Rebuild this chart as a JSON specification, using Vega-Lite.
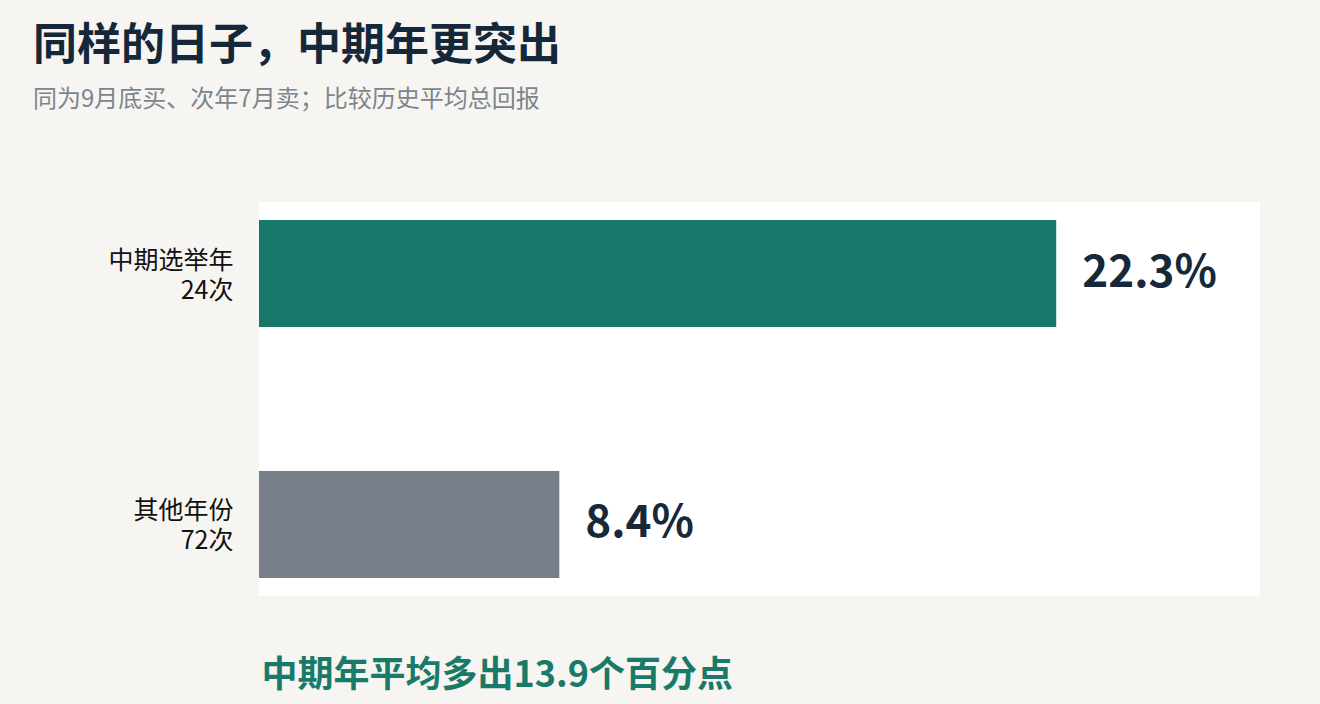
{
  "$schema": "https://vega.github.io/schema/vega-lite/v6.json",
  "width": 1001,
  "height": 394,
  "autosize": "none",
  "padding": {"left": 259, "top": 202, "right": 60, "bottom": 108},
  "background": "#f6f5f1",
  "view": {"fill": "#ffffff", "stroke": null},
  "title": {
    "text": "同样的日子，中期年更突出",
    "subtitle": "同为9月底买、次年7月卖；比较历史平均总回报",
    "anchor": "start",
    "frame": "group",
    "dx": -226,
    "offset": 90,
    "font": "Noto Sans CJK SC",
    "fontSize": 44,
    "fontWeight": "bold",
    "color": "#15283a",
    "subtitleFont": "Noto Sans CJK SC",
    "subtitleFontSize": 24,
    "subtitleColor": "#7d858c",
    "subtitlePadding": 19
  },
  "data": {
    "values": [
      {"group": "中期选举年|24次", "value": 22.3, "label": "22.3%", "kind": "mid"},
      {"group": "其他年份|72次", "value": 8.4, "label": "8.4%", "kind": "other"}
    ]
  },
  "encoding": {
    "y": {
      "field": "group",
      "type": "nominal",
      "sort": null,
      "scale": {"paddingInner": 0.574, "paddingOuter": 0.072},
      "axis": {
        "title": null,
        "domain": false,
        "ticks": false,
        "labelExpr": "split(datum.value, '|')",
        "labelFont": "Noto Sans CJK SC",
        "labelFontSize": 25,
        "labelColor": "#111111",
        "labelLineHeight": 30,
        "labelPadding": 26,
        "labelOffset": -13,
        "labelAlign": "right",
        "labelBaseline": "middle"
      }
    },
    "x": {
      "field": "value",
      "type": "quantitative",
      "scale": {"domain": [0, 28], "nice": false},
      "axis": {
        "title": "中期年平均多出13.9个百分点",
        "labels": false,
        "ticks": false,
        "domain": false,
        "grid": false,
        "titleFont": "Noto Sans CJK SC",
        "titleFontSize": 36,
        "titleFontWeight": "bold",
        "titleColor": "#1a7a6a",
        "titleAnchor": "start",
        "titleAlign": "left",
        "titleX": 2,
        "titleY": 90,
        "titleBaseline": "alphabetic"
      }
    }
  },
  "layer": [
    {
      "mark": {"type": "bar"},
      "encoding": {
        "color": {
          "field": "kind",
          "type": "nominal",
          "scale": {"domain": ["mid", "other"], "range": ["#17786a", "#77808a"]},
          "legend": null
        }
      }
    },
    {
      "mark": {
        "type": "text",
        "align": "left",
        "baseline": "middle",
        "dx": 26,
        "font": "Noto Sans CJK SC",
        "fontSize": 44,
        "fontWeight": "bold",
        "color": "#16283a"
      },
      "encoding": {"text": {"field": "label"}}
    }
  ]
}
